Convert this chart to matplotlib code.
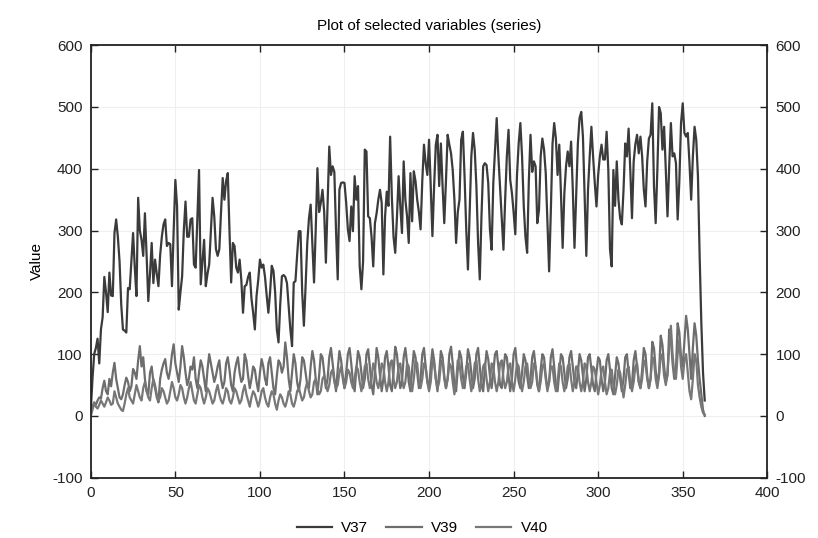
import matplotlib.pyplot as plt
import numpy as np

plt.rcParams['font.family'] = ['Liberation Sans', 'DejaVu Sans']
plt.rcParams['axes.unicode_minus'] = False

# daily values
v37 = [10, 60, 100, 110, 125, 85, 140, 160, 225, 200, 168, 232, 195, 194,
       296, 318, 290, 250, 180, 140, 138, 135, 207, 205, 250, 296, 240, 194,
       353, 300, 285, 259, 328, 260, 186, 230, 280, 215, 253, 230, 210, 260,
       290, 310, 318, 275, 280, 278, 210, 300, 382, 340, 172, 200, 226, 300,
       347, 290, 290, 318, 320, 245, 240, 320, 398, 213, 250, 285, 210, 230,
       245, 300, 353, 323, 270, 259, 270, 330, 385, 350, 380, 393, 300, 216,
       280, 275, 240, 232, 253, 220, 167, 210, 212, 225, 232, 190, 167, 140,
       194, 220, 253, 240, 245, 225, 195, 167, 200, 243, 235, 200, 140, 119,
       180, 226, 228, 225, 215, 178, 140, 113, 216, 218, 260, 299, 299, 200,
       146, 210, 280, 320, 342, 280, 216, 302, 401, 330, 345, 366, 330, 248,
       340, 436, 390, 404, 395, 300, 221, 366, 377, 378, 377, 345, 302, 283,
       339, 299, 388, 350, 372, 242, 205, 250, 431, 428, 323, 320, 290, 242,
       312, 328, 350, 366, 345, 229, 323, 363, 340, 452, 355, 290, 264, 320,
       388, 340, 296, 412, 350, 323, 280, 393, 315, 396, 380, 350, 330, 302,
       380, 439, 409, 390, 447, 372, 291, 372, 439, 455, 372, 441, 372, 312,
       380, 455, 439, 425, 398, 350, 280, 330, 350, 447, 460, 388, 302, 237,
       330, 420, 458, 431, 372, 280, 221, 323, 404, 409, 406, 377, 302, 269,
       377, 431, 482, 420, 370, 323, 269, 350, 420, 463, 382, 361, 330, 294,
       390, 441, 474, 420, 340, 290, 264, 380, 455, 395, 412, 404, 312, 333,
       420, 449, 431, 393, 312, 234, 330, 440, 474, 449, 390, 439, 360, 272,
       360, 404, 428, 404, 444, 366, 272, 355, 441, 482, 492, 452, 355, 259,
       366, 420, 468, 420, 377, 339, 390, 420, 439, 415, 415, 460, 398, 270,
       242, 398, 340, 412, 350, 320, 310, 366, 441, 420, 465, 398, 320, 412,
       440, 455, 425, 452, 420, 366, 339, 412, 449, 455, 506, 372, 312, 398,
       500, 490, 431, 468, 398, 323, 404, 474, 420, 425, 409, 318, 380, 474,
       506, 458, 452, 458, 409, 350, 420, 468, 447, 388, 259, 151, 70, 25]

v39 = [5, 15, 22, 18, 25, 30, 28, 45, 57, 40, 35, 60, 48, 70,
       86, 60, 45, 30, 27, 35, 50, 62, 55, 40, 48, 76, 70, 60,
       90, 113, 80, 95, 60, 40, 35, 70, 80, 55, 45, 30, 22, 60,
       75, 85, 92, 70, 60, 75, 100, 116, 85, 70, 55, 80, 113, 95,
       70, 50, 60, 80, 75, 95, 60, 45, 70, 90, 80, 60, 40, 75,
       100, 85, 70, 55, 65, 80, 90, 60, 45, 55, 85, 95, 75, 50,
       40, 70, 85, 95, 70, 55, 60, 100, 90, 65, 45, 60, 80, 75,
       55, 40, 70, 92, 80, 60, 50, 85, 95, 70, 45, 35, 65, 90,
       85, 70, 80, 119, 95, 60, 40, 70, 100, 85, 55, 40, 60, 95,
       90, 70, 50, 45, 80, 105, 90, 60, 35, 65, 100, 95, 70, 45,
       60, 95, 110, 85, 60, 40, 75, 105, 90, 65, 45, 70, 100, 110,
       85, 55, 40, 75, 105, 95, 70, 45, 60, 100, 108, 80, 50, 35,
       70, 110, 95, 65, 40, 60, 95, 105, 80, 50, 40, 70, 112, 100,
       70, 45, 55, 95, 110, 85, 55, 40, 75, 105, 95, 70, 45, 60,
       100, 110, 80, 55, 45, 80, 108, 90, 60, 40, 70, 105, 95, 65,
       45, 60, 100, 112, 85, 50, 40, 75, 105, 95, 65, 45, 70, 108,
       95, 70, 45, 60, 100, 110, 80, 50, 40, 75, 105, 92, 65, 45,
       70, 100, 105, 80, 50, 45, 75, 100, 95, 65, 40, 60, 100, 110,
       80, 55, 45, 70, 100, 90, 65, 45, 60, 95, 105, 80, 50, 40,
       75, 100, 95, 65, 45, 55, 95, 108, 80, 50, 40, 70, 100, 95,
       70, 45, 60, 95, 105, 80, 55, 45, 70, 100, 90, 65, 40, 60,
       95, 100, 75, 50, 40, 70, 95, 90, 60, 40, 55, 90, 100, 75,
       45, 35, 65, 95, 85, 60, 40, 60, 95, 100, 70, 45, 50, 90,
       105, 80, 55, 45, 75, 110, 100, 65, 45, 60, 120, 110, 75, 50,
       70, 130, 115, 80, 55, 65, 140, 125, 85, 60, 75, 150, 135, 95,
       80, 120, 162, 140, 100, 60, 110, 150, 130, 90, 60, 35, 10, 0]

v40 = [0, 10, 20, 15, 12, 18, 25, 20, 15, 22, 30, 25, 18, 20,
       40, 30, 20, 15, 10, 8, 20, 35, 45, 30, 25, 20, 35, 50,
       40, 30, 25, 45, 55, 40, 30, 25, 45, 60, 50, 35, 25, 30,
       45, 40, 30, 20, 25, 40, 55, 45, 30, 25, 35, 50, 45, 30,
       20, 30, 45, 55, 40, 25, 20, 35, 50, 45, 30, 20, 30, 45,
       40, 30, 20, 25, 40, 50, 35, 25, 20, 30, 45, 40, 25, 20,
       30, 45, 40, 30, 20, 25, 40, 50, 35, 25, 15, 30, 40, 35,
       25, 15, 25, 40, 45, 30, 20, 15, 30, 40, 35, 20, 10, 25,
       35, 30, 20, 15, 25, 40, 35, 20, 15, 25, 40, 45, 35, 25,
       30, 45, 55, 40, 30, 35, 55, 60, 45, 35, 40, 60, 65, 50,
       40, 50, 70, 75, 55, 45, 50, 70, 80, 60, 45, 55, 75, 70,
       55, 45, 60, 80, 75, 55, 40, 55, 80, 85, 60, 45, 60, 85,
       75, 55, 45, 60, 85, 80, 55, 40, 55, 85, 90, 60, 45, 55,
       80, 85, 60, 45, 55, 85, 80, 55, 40, 60, 90, 85, 55, 45,
       60, 85, 80, 55, 40, 55, 90, 85, 60, 45, 55, 85, 90, 60,
       45, 60, 85, 80, 55, 35, 55, 90, 85, 60, 45, 55, 80, 85,
       60, 40, 55, 85, 90, 60, 40, 55, 80, 85, 60, 40, 55, 85,
       80, 55, 40, 55, 85, 90, 60, 45, 55, 80, 85, 55, 40, 60,
       85, 80, 55, 40, 55, 80, 85, 60, 45, 55, 85, 80, 55, 40,
       55, 80, 85, 60, 40, 55, 80, 80, 55, 40, 55, 85, 80, 55,
       40, 55, 80, 85, 60, 40, 55, 80, 80, 55, 40, 55, 85, 80,
       55, 40, 55, 80, 75, 55, 35, 50, 75, 80, 55, 35, 45, 70,
       75, 50, 35, 50, 75, 70, 50, 30, 50, 75, 80, 55, 40, 55,
       80, 85, 55, 45, 60, 90, 85, 60, 45, 60, 95, 90, 60, 45,
       65, 100, 95, 65, 50, 70, 110, 146, 100, 70, 60, 100, 124, 80,
       60, 90, 100, 70, 40, 27, 60, 100, 90, 50, 30, 15, 5, 2]

series_names = ['V37', 'V39', 'V40']
series_colors = ['#3b3b3b', '#6d6d6d', '#777777']
x_ticks = [0, 50, 100, 150, 200, 250, 300, 350, 400]
y_ticks = [-100, 0, 100, 200, 300, 400, 500, 600]

days = np.arange(len(v37))

fig = plt.figure(figsize=(8.18, 5.38), dpi=100)
ax = fig.add_axes([0.111, 0.112, 0.827, 0.804])

for vals, name, col in zip([v37, v39, v40], series_names, series_colors):
    ax.plot(days, vals, color=col, linewidth=1.6, label=name)

ax.set_xlim(0, 400)
ax.set_ylim(-100, 600)
ax.set_xticks(x_ticks)
ax.set_yticks(y_ticks)
ax.grid(True, color='#efefef', linewidth=0.8)
ax.set_axisbelow(True)
ax.tick_params(direction='in', length=5, width=1, top=True, right=True,
               labelright=True, labelsize=11, colors='#222222', pad=6)
for s in ax.spines.values():
    s.set_linewidth(1.3)
    s.set_color('#222222')

ax.set_title('Plot of selected variables (series)', fontsize=11, pad=11)
ax.set_ylabel('Value', fontsize=11, labelpad=6)

ax.legend(loc='upper center', bbox_to_anchor=(0.49, -0.068), ncol=3,
          frameon=False, fontsize=11, handlelength=2.3, columnspacing=1.2,
          handletextpad=0.6)

fig.savefig('out.png', dpi=100)
